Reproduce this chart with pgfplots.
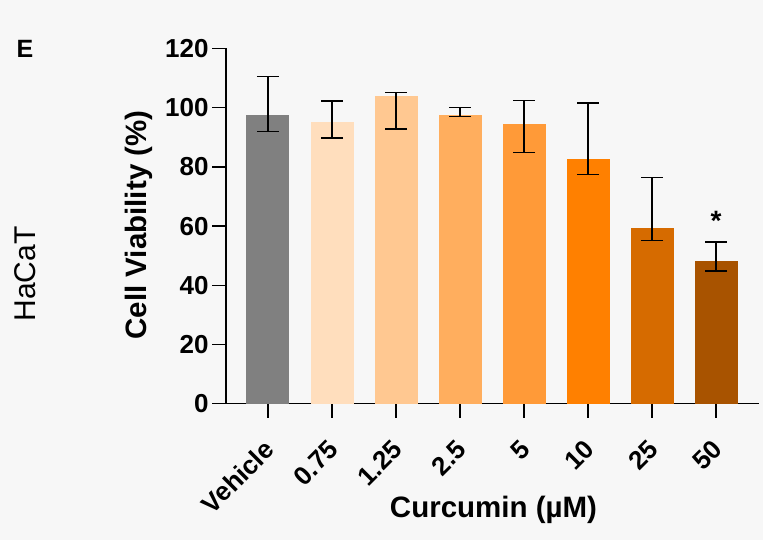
\documentclass[border=0pt]{standalone}
\usepackage{pgfplots}
\pgfplotsset{compat=1.18}
\usepackage{fontspec}
\setmainfont{Liberation Sans}
\definecolor{bg}{HTML}{F7F7F7}
\definecolor{c0}{HTML}{808080}
\definecolor{c1}{HTML}{FFDEBD}
\definecolor{c2}{HTML}{FFC891}
\definecolor{c3}{HTML}{FFAE5E}
\definecolor{c4}{HTML}{FF9A38}
\definecolor{c5}{HTML}{FF8000}
\definecolor{c6}{HTML}{D66B00}
\definecolor{c7}{HTML}{A85300}
\begin{document}
\begin{tikzpicture}
\fill[bg] (0,0) rectangle (763pt,-540pt);
\useasboundingbox (0,0) rectangle (763pt,-540pt);
\begin{axis}[
  at={(226pt,-403.7pt)}, anchor=south west,
  scale only axis, width=533pt, height=355.2pt,
  xmin=-0.656, xmax=7.67, ymin=0, ymax=120,
  axis x line=bottom, axis y line=left,
  axis line style={-, line width=1.5pt, black},
  tick align=outside, major tick length=14pt,
  tick style={line width=1.5pt, black},
  ytick={0,20,...,120},
  xtick={0,...,7},
  xticklabels={Vehicle,0.75,1.25,2.5,5,10,25,50},
  /pgf/number format/assume math mode=true,
  tick label style={font=\fontsize{26}{30}\selectfont\bfseries},
  xticklabel shift=25pt,
  xticklabel style={xshift=4pt, rotate=45, anchor=east},
  ybar, bar width=43pt, bar shift=0pt,
  every axis plot/.append style={draw=none},
  error bars/y dir=both, error bars/y explicit,
  error bars/error bar style={draw=black, line width=1.5pt},
  error bars/error mark options={draw=black, rotate=90, mark size=11pt, line width=1.5pt},
  clip=false,
]
\addplot[fill=c0] coordinates {(0,97.5) += (0,13.0) -= (0,5.6)};
\addplot[fill=c1] coordinates {(1,95.2) += (0,7.1) -= (0,5.4)};
\addplot[fill=c2] coordinates {(2,104.0) += (0,1.1) -= (0,11.2)};
\addplot[fill=c3] coordinates {(3,97.5) += (0,2.5) -= (0,0.5)};
\addplot[fill=c4] coordinates {(4,94.5) += (0,7.9) -= (0,9.6)};
\addplot[fill=c5] coordinates {(5,82.7) += (0,18.9) -= (0,5.2)};
\addplot[fill=c6] coordinates {(6,59.4) += (0,17.0) -= (0,4.2)};
\addplot[fill=c7] coordinates {(7,48.2) += (0,6.5) -= (0,3.3)};
\node[font=\fontsize{28}{30}\selectfont\bfseries] at (axis cs:7,61.7) {*};
\end{axis}
\node[rotate=90, font=\fontsize{29.5}{32}\selectfont\bfseries] at (139pt,-225pt) {Cell Viability (\%)};
\node[anchor=base, font=\fontsize{29.5}{32}\selectfont\bfseries] at (493.5pt,-517pt) {Curcumin (µM)};
\node[rotate=90, font=\fontsize{30}{34}\selectfont] at (25pt,-274pt) {HaCaT};
\node[font=\fontsize{25}{30}\selectfont\bfseries] at (25pt,-49pt) {E};
\end{tikzpicture}
\end{document}
